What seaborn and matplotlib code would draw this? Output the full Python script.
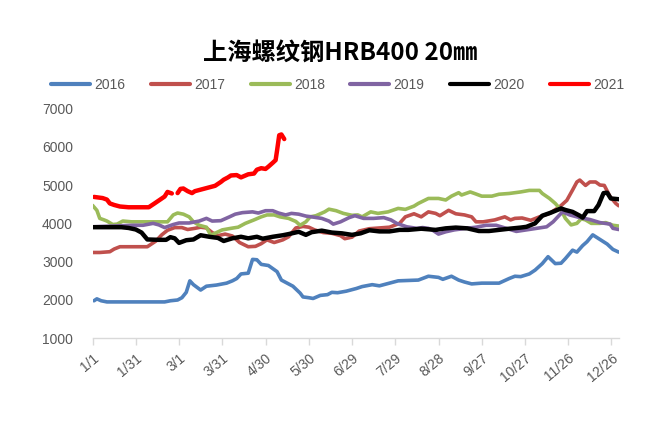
import numpy as np
import pandas as pd
import matplotlib
matplotlib.use("Agg")
import matplotlib.pyplot as plt
import seaborn as sns
from matplotlib.lines import Line2D

# ---- data (day of year, price) ----
days_2016 = [1, 3, 6, 10, 20, 30, 40, 50, 54, 59, 62, 65, 67.5, 70, 75, 79, 86, 93, 97, 100, 103, 108, 111, 114, 117, 122, 128, 131, 135, 139, 144, 146, 150, 153, 158, 163, 166, 170, 176, 183, 187, 194, 199, 206, 212, 219, 226, 233, 240, 243, 249, 254, 258, 263, 270, 282, 289, 293, 297, 303, 307, 312, 316, 321, 325, 328, 333, 336, 340, 343, 347, 352, 357, 361, 365]
vals_2016 = [1980, 2030, 1980, 1950, 1950, 1950, 1950, 1950, 1980, 2000, 2060, 2200, 2500, 2400, 2260, 2360, 2390, 2440, 2500, 2560, 2680, 2700, 3060, 3050, 2930, 2900, 2740, 2520, 2440, 2360, 2180, 2080, 2060, 2040, 2120, 2140, 2200, 2190, 2230, 2300, 2350, 2400, 2370, 2440, 2500, 2510, 2520, 2620, 2590, 2540, 2620, 2520, 2470, 2420, 2440, 2440, 2560, 2620, 2610, 2680, 2780, 2950, 3130, 2950, 2960, 3080, 3300, 3250, 3420, 3520, 3700, 3580, 3460, 3320, 3250]

days_2017 = [0, 5, 12, 15, 19, 38, 44, 48, 52, 57, 62, 66, 71, 75, 79, 83, 87, 92, 97, 102, 108, 113, 117, 121, 126, 132, 136, 141, 146, 150, 154, 160, 166, 172, 175, 180, 185, 192, 199, 206, 213, 217, 223, 228, 233, 238, 241, 247, 252, 258, 263, 266, 271, 279, 286, 290, 293, 298, 304, 310, 317, 324, 329, 333, 336, 338, 342, 345, 349, 352, 355, 359, 363, 365]
vals_2017 = [3240, 3240, 3260, 3330, 3390, 3390, 3540, 3700, 3820, 3890, 3890, 3840, 3870, 3900, 3880, 3760, 3680, 3720, 3670, 3500, 3390, 3400, 3470, 3570, 3500, 3570, 3650, 3880, 3920, 3900, 3830, 3760, 3740, 3680, 3600, 3640, 3800, 3860, 3880, 3900, 4000, 4170, 4250, 4170, 4300, 4260, 4200, 4340, 4250, 4220, 4170, 4040, 4040, 4090, 4170, 4090, 4130, 4140, 4080, 4170, 4260, 4430, 4600, 4870, 5080, 5130, 4990, 5080, 5080, 5000, 4990, 4700, 4520, 4460]

days_2018 = [0, 3, 5, 8, 10, 14, 17, 21, 27, 40, 52, 56, 59, 63, 67, 70, 74, 79, 82, 86, 90, 96, 101, 106, 112, 117, 121, 126, 130, 136, 141, 144, 148, 151, 155, 161, 164, 169, 174, 180, 184, 187, 193, 198, 205, 212, 217, 223, 226, 233, 240, 245, 249, 254, 256, 262, 265, 270, 277, 282, 289, 297, 303, 310, 312, 317, 321, 325, 328, 332, 336, 339, 342, 346, 352, 356, 361, 365]
vals_2018 = [4470, 4340, 4130, 4090, 4060, 3970, 3980, 4060, 4040, 4040, 4040, 4220, 4270, 4240, 4170, 4040, 3950, 3900, 3690, 3760, 3830, 3870, 3900, 4000, 4090, 4170, 4220, 4220, 4170, 4130, 4050, 3950, 4040, 4170, 4200, 4300, 4370, 4330, 4260, 4210, 4220, 4170, 4300, 4260, 4300, 4390, 4365, 4450, 4520, 4650, 4650, 4610, 4710, 4800, 4740, 4820, 4780, 4710, 4710, 4760, 4780, 4820, 4860, 4860, 4780, 4650, 4520, 4350, 4130, 3960, 4000, 4120, 4090, 4000, 4000, 4020, 3950, 3930]

days_2019 = [0, 14, 28, 35, 42, 46, 50, 56, 60, 67, 74, 79, 83, 89, 95, 99, 104, 111, 115, 120, 125, 129, 134, 138, 143, 148, 152, 159, 164, 167, 172, 178, 182, 188, 195, 202, 207, 211, 218, 225, 229, 233, 236, 240, 245, 251, 257, 266, 273, 280, 287, 294, 301, 308, 315, 319.5, 324, 326, 331, 338, 345, 352, 359, 361, 365]
vals_2019 = [3910, 3930, 3950, 3950, 4000, 3960, 3890, 3970, 4010, 4010, 4060, 4130, 4060, 4070, 4170, 4240, 4280, 4300, 4270, 4330, 4330, 4270, 4220, 4260, 4240, 4190, 4170, 4130, 4060, 3980, 4040, 4150, 4200, 4130, 4130, 4150, 4090, 4000, 3910, 3870, 3890, 3870, 3820, 3720, 3780, 3830, 3860, 3900, 3950, 3950, 3870, 3790, 3830, 3870, 3910, 4040, 4220, 4300, 4220, 4150, 4100, 4020, 3980, 3870, 3840]

days_2020 = [0, 20, 25, 30, 34, 38, 46, 51, 54, 57, 60, 65, 70, 75, 81, 87, 91, 97, 103, 108, 114, 118, 125, 132, 136, 143, 148, 152, 159, 166, 173, 180, 186, 192, 199, 206, 213, 219, 228, 238, 245, 252, 260, 268, 275, 282, 289, 297, 301, 307, 312, 318, 325, 328, 333, 338, 340, 343, 348, 351, 354.5, 357, 359.5, 365]
vals_2020 = [3900, 3900, 3880, 3840, 3760, 3580, 3570, 3570, 3640, 3610, 3490, 3560, 3580, 3690, 3650, 3620, 3540, 3610, 3650, 3610, 3650, 3600, 3650, 3690, 3720, 3780, 3700, 3770, 3810, 3760, 3740, 3700, 3740, 3820, 3790, 3790, 3830, 3830, 3860, 3830, 3870, 3890, 3870, 3800, 3800, 3830, 3860, 3890, 3910, 4000, 4200, 4280, 4390, 4350, 4300, 4200, 4150, 4320, 4320, 4480, 4790, 4800, 4650, 4630]

# 2021 has a break around the holiday (two segments)
days_2021a = [1, 7, 10, 12, 15, 19, 25, 39, 43, 46.5, 50, 52, 55]
vals_2021a = [4690, 4660, 4620, 4520, 4480, 4440, 4420, 4420, 4520, 4610, 4700, 4820, 4780]
days_2021b = [59, 61, 63, 66, 69, 71, 74, 78, 82, 85, 89, 91, 94, 96, 100, 103, 108, 112, 114, 117, 120, 122, 125, 127, 128, 129.5, 131, 133]
vals_2021b = [4790, 4900, 4910, 4840, 4790, 4840, 4870, 4910, 4950, 4980, 5080, 5140, 5200, 5250, 5260, 5200, 5280, 5300, 5400, 5440, 5420, 5480, 5580, 5650, 5900, 6300, 6320, 6200]

tick_days = [0, 30, 60, 90, 120, 150, 180, 210, 240, 270, 300, 330, 360]
tick_labels = ["1/1", "1/31", "3/1", "3/31", "4/30", "5/30", "6/29", "7/29",
               "8/28", "9/27", "10/27", "11/26", "12/26"]
y_ticks = [1000, 2000, 3000, 4000, 5000, 6000, 7000]

title = "上海螺纹钢HRB400 20㎜"

series = [
    ("2016", [(days_2016, vals_2016)], "#4F81BD", 2.6),
    ("2017", [(days_2017, vals_2017)], "#C0504D", 2.6),
    ("2018", [(days_2018, vals_2018)], "#9BBB59", 2.6),
    ("2019", [(days_2019, vals_2019)], "#8064A2", 2.6),
    ("2020", [(days_2020, vals_2020)], "#000000", 3.2),
    ("2021", [(days_2021a, vals_2021a), (days_2021b, vals_2021b)], "#FF0000", 3.2),
]

sns.set_theme(style="white")
plt.rcParams["font.family"] = ["Liberation Sans", "DejaVu Sans"]

fig = plt.figure(figsize=(6.61, 4.43), dpi=100)
ax = fig.add_axes([0.140, 0.2363, 0.796, 0.519])

handles = []
for name, segs, color, lw in series:
    for d, v in segs:
        df = pd.DataFrame({"day": d, "price": v})
        sns.lineplot(data=df, x="day", y="price", ax=ax, color=color,
                     linewidth=lw, estimator=None, sort=False,
                     solid_capstyle="round", solid_joinstyle="round")
    handles.append(Line2D([0], [0], color=color, lw=3.0, solid_capstyle="round"))

ax.set_xlim(0, 365)
ax.set_ylim(1000, 7000)
ax.set_xticks(tick_days)
ax.set_xticklabels(tick_labels, rotation=40, ha="right", rotation_mode="anchor")
ax.set_yticks(y_ticks)
ax.set_xlabel("")
ax.set_ylabel("")

for s in ["top", "right", "left"]:
    ax.spines[s].set_visible(False)
ax.spines["bottom"].set_color("#D9D9D9")
ax.spines["bottom"].set_linewidth(1.0)
ax.tick_params(axis="x", which="major", bottom=True, length=5, width=1,
               color="#D9D9D9", labelcolor="#595959", labelsize=10, pad=4)
ax.tick_params(axis="y", left=False, labelcolor="#595959", labelsize=10, pad=8)

fig.text(0.514, 0.878, title, ha="center", va="center", fontsize=17.5,
         fontweight="bold", color="#000000",
         family=["Noto Sans CJK SC", "DejaVu Sans"])

leg = fig.legend(handles, [s[0] for s in series], loc="center",
                 bbox_to_anchor=(0.511, 0.808), ncol=6, frameon=False,
                 handlelength=2.8, handletextpad=0.3, columnspacing=1.85,
                 fontsize=10, labelcolor="#595959")

fig.savefig("out.png", dpi=100)
